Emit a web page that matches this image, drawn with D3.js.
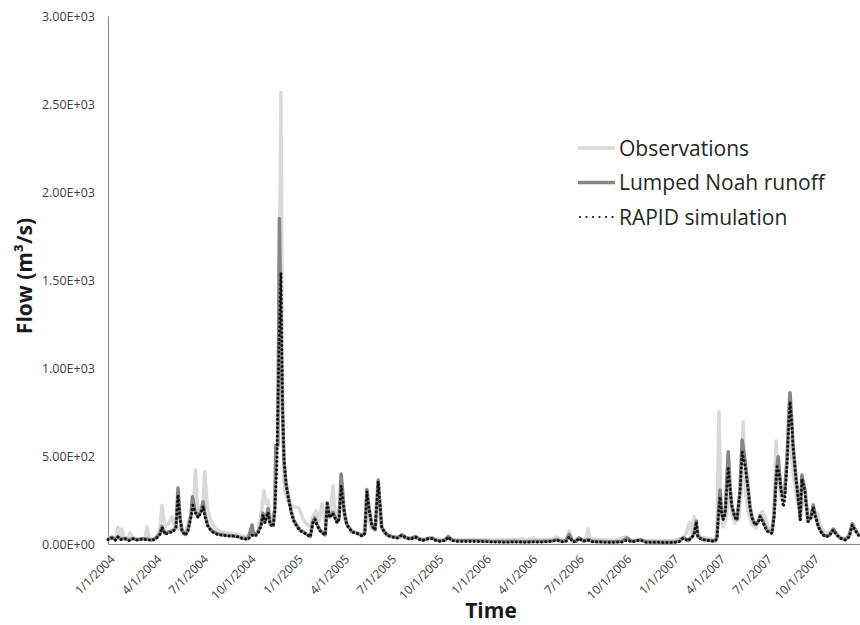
<!DOCTYPE html>
<html>
<head>
  <meta charset="utf-8">
  <script src="https://d3js.org/d3.v7.min.js"></script>
  <style>
    body { margin: 0; background: #fff; }
    svg { font-family: "Open Sans", sans-serif; }
  </style>
</head>
<body>
<div id="my_dataviz"></div>
<script>
// [days since 1/1/2004, flow in m3/s]
const observations = [[0,30],[8,40],[16,30],[19,95],[23,40],[27,85],[31,35],[39,30],[43,64],[49,30],[58,28],[66,30],[72,35],[76,100],[80,35],[87,30],[95,40],[101,90],[105,220],[109,130],[113,100],[119,120],[124,155],[128,110],[134,90],[140,85],[146,70],[152,80],[159,150],[165,180],[170,420],[173,250],[177,170],[181,200],[185,250],[188,411],[192,250],[194,190],[200,130],[208,90],[218,70],[229,65],[241,60],[253,55],[262,45],[272,40],[280,50],[288,60],[293,90],[299,200],[303,306],[307,230],[311,250],[315,150],[319,130],[324,200],[328,400],[332,1200],[336,2565],[339,900],[342,350],[346,267],[354,220],[363,210],[371,205],[379,140],[387,110],[393,100],[398,155],[404,190],[410,130],[416,230],[422,120],[427,150],[433,200],[437,330],[441,180],[447,150],[453,300],[459,150],[466,100],[476,70],[486,60],[494,50],[501,120],[503,200],[511,90],[519,80],[525,250],[530,100],[538,60],[548,45],[563,40],[577,35],[597,30],[626,28],[665,25],[703,25],[742,22],[781,25],[801,25],[804,33],[810,22],[826,35],[834,22],[859,25],[872,40],[880,22],[890,25],[896,75],[902,25],[917,25],[929,30],[933,87],[937,30],[956,25],[985,22],[1008,40],[1016,22],[1043,20],[1073,20],[1102,20],[1117,35],[1123,60],[1129,121],[1133,70],[1139,155],[1143,90],[1150,40],[1166,30],[1179,25],[1183,60],[1187,752],[1191,200],[1195,98],[1201,150],[1207,300],[1212,180],[1218,118],[1226,150],[1230,300],[1234,695],[1238,300],[1244,180],[1251,110],[1259,90],[1267,170],[1271,184],[1277,150],[1282,100],[1290,80],[1294,200],[1298,585],[1302,400],[1308,250],[1313,250],[1319,477],[1325,600],[1331,400],[1339,250],[1345,180],[1352,250],[1360,200],[1368,150],[1378,175],[1383,110],[1393,60],[1409,70],[1422,40],[1434,30],[1446,100],[1453,70],[1460,45]];

const noahRunoff = [[0,28],[8,38],[14,25],[19,42],[25,28],[33,32],[41,22],[49,32],[56,25],[66,30],[76,28],[85,22],[93,32],[101,60],[105,100],[111,60],[119,70],[126,75],[132,95],[136,318],[140,150],[144,75],[150,55],[155,75],[161,160],[164,269],[169,190],[175,155],[181,190],[185,240],[188,170],[194,105],[202,75],[212,58],[222,52],[233,48],[243,47],[253,42],[262,32],[272,30],[280,108],[283,50],[291,65],[297,105],[301,175],[305,125],[311,200],[315,115],[321,105],[324,200],[326,560],[330,560],[333,1850],[336,1200],[339,750],[342,470],[346,340],[350,275],[356,185],[361,135],[367,105],[373,80],[383,62],[393,42],[398,125],[402,148],[406,112],[412,78],[418,62],[422,52],[426,235],[429,175],[431,155],[437,180],[445,125],[449,145],[453,398],[459,185],[464,112],[474,70],[484,62],[494,48],[499,62],[503,310],[507,205],[513,105],[519,82],[525,364],[529,205],[532,92],[542,52],[552,42],[562,36],[571,52],[579,37],[587,30],[597,42],[606,28],[612,22],[622,32],[630,34],[637,22],[645,18],[655,22],[661,42],[668,22],[678,18],[694,18],[717,18],[742,15],[771,14],[791,15],[810,13],[830,15],[849,15],[863,18],[872,25],[882,15],[890,18],[896,55],[902,18],[909,15],[915,35],[923,18],[933,25],[942,15],[966,13],[985,13],[999,15],[1008,35],[1018,15],[1034,25],[1045,13],[1063,12],[1082,10],[1102,12],[1111,18],[1117,36],[1123,28],[1127,20],[1135,42],[1139,62],[1143,130],[1146,42],[1154,27],[1166,22],[1179,17],[1183,35],[1187,210],[1189,307],[1192,190],[1195,145],[1199,180],[1205,524],[1209,310],[1212,220],[1218,155],[1222,140],[1228,310],[1232,591],[1238,468],[1244,310],[1247,220],[1251,155],[1257,112],[1263,125],[1267,160],[1273,125],[1279,85],[1282,75],[1290,65],[1294,160],[1298,380],[1302,496],[1304,420],[1308,300],[1312,275],[1315,300],[1319,477],[1323,760],[1325,860],[1328,720],[1331,560],[1335,430],[1339,315],[1343,205],[1345,140],[1348,392],[1354,310],[1358,185],[1360,130],[1366,155],[1370,222],[1374,165],[1380,100],[1387,62],[1393,45],[1401,48],[1409,85],[1415,58],[1422,35],[1432,25],[1440,45],[1446,115],[1451,85],[1457,58],[1460,45]];

const rapidSim = [[0,25],[8,35],[14,22],[19,40],[25,25],[33,30],[41,20],[49,30],[56,22],[66,28],[76,25],[85,20],[93,30],[101,55],[105,95],[111,55],[119,65],[126,70],[132,90],[136,280],[140,140],[144,70],[150,50],[155,70],[161,150],[165,220],[169,180],[175,150],[181,180],[185,215],[188,160],[194,100],[202,70],[212,55],[222,50],[233,45],[243,45],[253,40],[262,30],[272,27],[280,50],[286,45],[291,60],[297,100],[301,165],[305,120],[311,180],[315,110],[321,100],[324,180],[328,450],[332,1100],[336,1540],[339,800],[342,480],[346,340],[350,269],[356,180],[361,130],[367,100],[373,75],[383,60],[393,40],[398,120],[402,140],[406,108],[412,75],[418,60],[422,50],[426,230],[429,170],[431,150],[437,175],[445,120],[449,140],[453,330],[459,180],[464,108],[474,68],[484,60],[494,45],[499,60],[503,300],[507,200],[513,100],[519,80],[525,355],[529,200],[532,90],[542,50],[552,40],[562,34],[571,50],[579,35],[587,27],[597,40],[606,25],[612,20],[622,30],[630,32],[637,20],[645,15],[655,20],[661,40],[668,20],[678,15],[694,15],[717,15],[742,12],[771,10],[791,12],[810,10],[830,12],[849,12],[863,15],[872,22],[882,12],[890,15],[896,40],[902,15],[909,12],[915,32],[923,15],[933,22],[942,12],[966,10],[985,10],[999,12],[1008,22],[1018,12],[1034,22],[1045,10],[1063,10],[1082,8],[1102,10],[1111,15],[1117,33],[1123,25],[1127,18],[1135,40],[1139,60],[1143,127],[1146,40],[1154,25],[1166,20],[1179,15],[1183,30],[1187,200],[1189,269],[1192,180],[1195,138],[1199,170],[1205,439],[1209,300],[1212,212],[1218,150],[1222,136],[1228,300],[1232,524],[1238,440],[1244,300],[1247,212],[1251,150],[1257,108],[1263,120],[1267,155],[1273,120],[1279,80],[1282,70],[1290,60],[1294,150],[1298,350],[1300,439],[1304,400],[1308,300],[1312,212],[1315,260],[1319,439],[1323,700],[1325,809],[1328,700],[1331,553],[1335,420],[1339,307],[1343,200],[1345,136],[1348,370],[1354,300],[1358,180],[1360,127],[1366,150],[1370,210],[1374,160],[1380,98],[1387,60],[1393,42],[1401,45],[1409,80],[1415,55],[1422,33],[1432,23],[1440,40],[1446,108],[1451,80],[1457,55],[1460,42]];

const seriesNames = ["Observations", "Lumped Noah runoff", "RAPID simulation"];
const yTicks = [0, 500, 1000, 1500, 2000, 2500, 3000];

const width = 860, height = 625;
const margin = {top: 16, right: 0, bottom: 81, left: 108};

const svg = d3.select("#my_dataviz")
  .append("svg")
    .attr("width", width)
    .attr("height", height);

const startDate = new Date(2004, 0, 1);
const toDate = day => d3.timeDay.offset(startDate, day);

const x = d3.scaleTime()
  .domain([startDate, new Date(2008, 0, 1)])
  .range([margin.left, width - margin.right]);

const y = d3.scaleLinear()
  .domain([0, 3000])
  .range([height - margin.bottom, margin.top]);

// quarterly ticks 1/1/2004 .. 10/1/2007
const xTicks = d3.timeMonth.every(3).range(startDate, new Date(2007, 11, 31));

// Excel style scientific labels, e.g. 5.00E+02
const sci = v => {
  const s = d3.format(".2e")(v).split("e");
  const exp = +s[1];
  return s[0] + "E" + (exp < 0 ? "-" : "+") + String(Math.abs(exp)).padStart(2, "0");
};

const axisColor = "#868686";
const labelColor = "#404040";

// y axis
const yAxis = svg.append("g")
  .attr("transform", `translate(${margin.left},0)`)
  .call(d3.axisLeft(y).tickValues(yTicks).tickFormat(sci).tickSize(0).tickPadding(13));
yAxis.select(".domain").attr("stroke", axisColor);
yAxis.selectAll("text")
  .attr("fill", labelColor)
  .style("font-size", "12.5px")
  .style("font-family", "Open Sans");

// x axis
const xAxis = svg.append("g")
  .attr("transform", `translate(0,${y(0)})`)
  .call(d3.axisBottom(x).tickValues(xTicks).tickFormat(d3.timeFormat("%-m/%-d/%Y")).tickSize(0));
xAxis.select(".domain").attr("stroke", axisColor);
xAxis.selectAll("text")
  .attr("fill", labelColor)
  .style("font-size", "12px")
  .style("font-family", "Open Sans")
  .style("text-anchor", "end")
  .attr("dy", null)
  .attr("y", 0)
  .attr("transform", "translate(7,16) rotate(-45)");

// series lines
const line = d3.line()
  .x(d => x(toDate(d[0])))
  .y(d => y(d[1]));

const styles = [
  {stroke: "#d9d9d9", width: 3.5, dash: null},
  {stroke: "#868686", width: 3.5, dash: null},
  {stroke: "#111111", width: 3, dash: "0.01 4.2"}
];
const allSeries = [observations, noahRunoff, rapidSim];

svg.append("g")
  .selectAll("path")
  .data(allSeries)
  .join("path")
    .attr("d", line)
    .attr("fill", "none")
    .attr("stroke", (d, i) => styles[i].stroke)
    .attr("stroke-width", (d, i) => styles[i].width)
    .attr("stroke-dasharray", (d, i) => styles[i].dash)
    .attr("stroke-linecap", (d, i) => i == 2 ? "round" : "butt")
    .attr("stroke-linejoin", "round");

// legend
const legend = svg.append("g")
  .attr("transform", "translate(578,148)");
const rows = legend.selectAll("g")
  .data(seriesNames)
  .join("g")
    .attr("transform", (d, i) => `translate(0,${i * 34.5})`);
rows.append("line")
  .attr("x1", (d, i) => i == 2 ? 2 : 0)
  .attr("x2", 37)
  .attr("stroke", (d, i) => styles[i].stroke)
  .attr("stroke-width", (d, i) => i == 2 ? 2.2 : styles[i].width)
  .attr("stroke-dasharray", (d, i) => i == 2 ? "0.01 6.5" : null)
  .attr("stroke-linecap", (d, i) => i == 2 ? "round" : "butt");
rows.append("text")
  .attr("x", 41)
  .attr("y", 7.5)
  .attr("fill", "#262626")
  .style("font-size", "21px")
  .text(d => d);

// axis titles
svg.append("text")
  .attr("x", 491)
  .attr("y", 618)
  .attr("text-anchor", "middle")
  .attr("fill", "#1a1a1a")
  .style("font-size", "21px")
  .style("font-weight", "bold")
  .text("Time");

svg.append("text")
  .attr("transform", "translate(32,276) rotate(-90)")
  .attr("text-anchor", "middle")
  .attr("fill", "#1a1a1a")
  .style("font-size", "21px")
  .style("font-weight", "bold")
  .text("Flow (m³/s)");
</script>
</body>
</html>
